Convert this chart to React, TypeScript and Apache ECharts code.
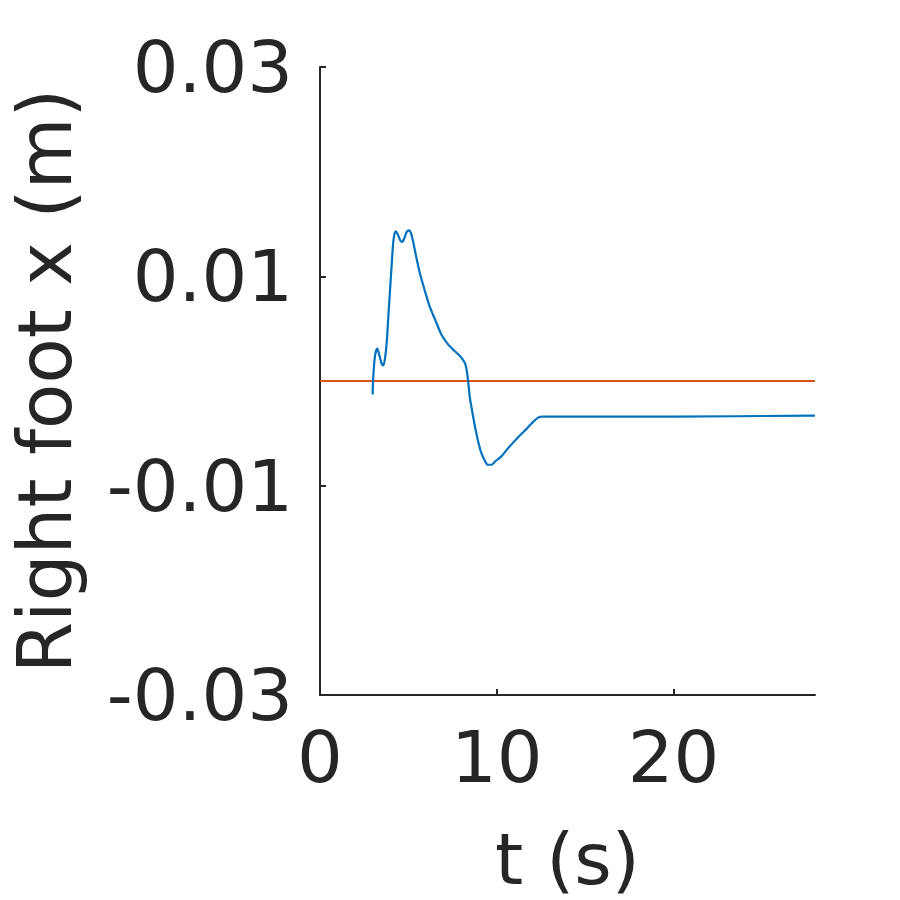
import React, { useEffect, useRef } from "react";
import * as echarts from "echarts";

const blueT = [2.98, 3.0, 3.11, 3.24, 3.35, 3.5, 3.58, 3.68, 3.77, 3.86, 3.95, 4.05, 4.14, 4.22, 4.29, 4.4, 4.55, 4.65, 4.78, 4.92, 5.05, 5.15, 5.27, 5.45, 5.65, 5.9, 6.21, 6.55, 6.88, 7.2, 7.53, 7.85, 8.1, 8.22, 8.29, 8.38, 8.47, 8.62, 8.76, 8.95, 9.13, 9.32, 9.5, 9.7, 9.9, 10.26, 10.6, 10.92, 11.3, 11.67, 12.0, 12.34, 12.6, 12.81, 13.8, 20.0, 28.0];
const blueV = [-0.0013, 0.0, 0.0024, 0.0031, 0.0025, 0.0016, 0.0015, 0.0022, 0.0036, 0.006, 0.0084, 0.011, 0.0132, 0.0141, 0.0143, 0.014, 0.0134, 0.0133, 0.0137, 0.0143, 0.0144, 0.0141, 0.0133, 0.0118, 0.0103, 0.0088, 0.0071, 0.0057, 0.0044, 0.0036, 0.003, 0.0025, 0.002, 0.0016, 0.0011, 0.0, -0.0015, -0.003, -0.0043, -0.0058, -0.0069, -0.0076, -0.008, -0.008, -0.0077, -0.0072, -0.0065, -0.0059, -0.0052, -0.0046, -0.004, -0.0035, -0.0034, -0.0034, -0.0034, -0.0034, -0.0033];
const orangeT = [0, 28];
const orangeV = [0, 0];
const xTicks = [0, 10, 20];
const yTicks = [-0.03, -0.01, 0.01, 0.03];

const TXT = "#262626";
const FONT = "DejaVu Sans";

export default function App() {
  const ref = useRef<HTMLDivElement>(null);
  useEffect(() => {
    if (!ref.current) return;
    const chart = echarts.init(ref.current, null, { renderer: "svg" });
    chart.setOption({
      animation: false,
      backgroundColor: "#ffffff",
      grid: { left: 320, right: 85, top: 67, bottom: 204 },
      xAxis: {
        type: "value",
        min: 0,
        max: 28,
        name: "t (s)",
        nameLocation: "middle",
        nameGap: 128,
        nameTextStyle: { fontFamily: FONT, fontSize: 72, color: TXT },
        axisLine: { show: true, onZero: false, lineStyle: { color: TXT, width: 2 } },
        axisTick: { show: true, inside: true, length: 6, customValues: xTicks, lineStyle: { color: TXT, width: 2 } },
        axisLabel: { customValues: xTicks, margin: 26, fontFamily: FONT, fontSize: 72, color: TXT },
        splitLine: { show: false },
      },
      yAxis: {
        type: "value",
        min: -0.03,
        max: 0.03,
        name: "Right foot x (m)",
        nameLocation: "middle",
        nameGap: 238,
        nameTextStyle: { fontFamily: FONT, fontSize: 74, color: TXT },
        axisLine: { show: true, onZero: false, lineStyle: { color: TXT, width: 2 } },
        axisTick: { show: true, inside: true, length: 6, customValues: yTicks, lineStyle: { color: TXT, width: 2 } },
        axisLabel: {
          customValues: yTicks,
          margin: 27,
          fontFamily: FONT,
          fontSize: 72,
          color: TXT,
          formatter: (v: number) => v.toFixed(2),
        },
        splitLine: { show: false },
      },
      series: [
        {
          type: "line",
          data: orangeT.map((t, i) => [t, orangeV[i]]),
          showSymbol: false,
          lineStyle: { color: "#D95319", width: 2 },
          z: 2,
        },
        {
          type: "line",
          data: blueT.map((t, i) => [t, blueV[i]]),
          showSymbol: false,
          smooth: 0.3,
          lineStyle: { color: "#0072BD", width: 2.2 },
          z: 3,
        },
      ],
    });
    return () => chart.dispose();
  }, []);
  return <div ref={ref} style={{ position: "fixed", left: 0, top: 0, width: 900, height: 900 }} />;
}
